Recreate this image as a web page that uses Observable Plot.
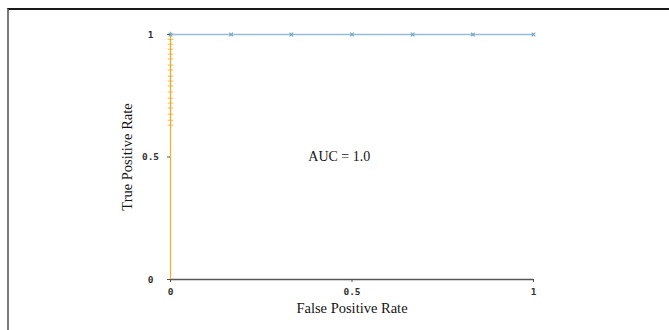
<!DOCTYPE html>
<html>
<head>
<meta charset="utf-8">
<script src="https://cdn.jsdelivr.net/npm/d3@7"></script>
<script src="https://cdn.jsdelivr.net/npm/@observablehq/plot@0.6"></script>
<style>
  html, body { margin: 0; padding: 0; background: #fff; }
  #wrap { position: relative; width: 669px; height: 330px; overflow: hidden; }
  #frame { position: absolute; left: 7px; top: 8px; right: -4px; bottom: -4px;
           border-top: 2px solid #1a1a1a; border-left: 2px solid #7a7a7a; pointer-events: none; }
  #wrap svg { position: absolute; left: 0; top: 0; }
</style>
</head>
<body>
<div id="wrap"><div id="frame"></div></div>
<script>
// Data
const orangeTPR = [0, 0.63, 0.65, 0.675, 0.70, 0.72, 0.74, 0.765, 0.79, 0.81, 0.83, 0.855, 0.875, 0.90, 0.92, 0.94, 0.96, 0.98, 1.0];
const orangeFPR = orangeTPR.map(() => 0);
const blueFPR = [0, 0.167, 0.333, 0.5, 0.667, 0.833, 1.0];
const blueTPR = [1, 1, 1, 1, 1, 1, 1];
const xTicks = [0, 0.5, 1];
const yTicks = [0, 0.5, 1];
const aucLabel = "AUC = 1.0";

const orange = orangeTPR.map((y, i) => ({x: orangeFPR[i], y}));
const orangeMarkers = orange.slice(1);
const blue = blueFPR.map((x, i) => ({x, y: blueTPR[i]}));

const serif = "'Liberation Serif', 'Times New Roman', serif";
const mono = "'DejaVu Sans Mono', monospace";

const chart = Plot.plot({
  width: 669,
  height: 330,
  marginLeft: 170,
  marginRight: 136,
  marginTop: 34,
  marginBottom: 51,
  x: {domain: [0, 1]},
  y: {domain: [0, 1]},
  style: {background: "transparent", overflow: "visible"},
  marks: [
    Plot.ruleY([0], {stroke: "#555", strokeWidth: 1.6}),
    Plot.line(orange, {x: "x", y: "y", stroke: "#f2b233", strokeWidth: 1.3}),
    Plot.dot(orangeMarkers, {x: "x", y: "y", symbol: "plus", r: 2, stroke: "#eaa820", strokeWidth: 0.9, strokeOpacity: 0.85}),
    Plot.line(blue, {x: "x", y: "y", stroke: "#93bdd8", strokeWidth: 1.5}),
    Plot.dot(blue, {x: "x", y: "y", symbol: "times", r: 1.8, stroke: "#6ea6cc", strokeWidth: 1.1}),
    Plot.axisX({ticks: xTicks, tickFormat: d => String(d), tickSize: 3, tickPadding: 6,
      fontFamily: mono, fontSize: 9.5, fontWeight: "bold", fill: "#333", stroke: "#555",
      label: null}),
    Plot.axisY({ticks: yTicks, tickFormat: d => String(d), tickSize: 3, tickPadding: 17,
      textAnchor: "middle", fontFamily: mono, fontSize: 9.5, fontWeight: "bold", fill: "#333", stroke: "#555",
      label: null}),
    Plot.text(["False Positive Rate"], {frameAnchor: "bottom", dy: 33, fontFamily: serif, fontSize: 14.5, fill: "#151515", text: d => d}),
    Plot.text(["True Positive Rate"], {frameAnchor: "left", dx: -43, rotate: -90, textAnchor: "middle", fontFamily: serif, fontSize: 14.5, fill: "#151515", text: d => d}),
    Plot.text([aucLabel], {x: 0.465, y: 0.5, fontFamily: serif, fontSize: 14, fill: "#151515", text: d => d})
  ]
});
document.getElementById("wrap").appendChild(chart);
</script>
</body>
</html>
